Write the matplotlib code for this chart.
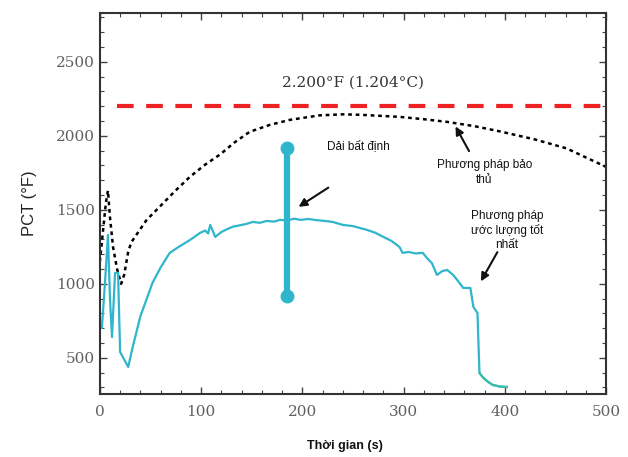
import matplotlib
matplotlib.use("Agg")
import matplotlib.pyplot as plt
from matplotlib.ticker import MultipleLocator

# conservative method (black dotted)
cons_t = [0, 3, 6, 8, 10, 13, 17, 21, 24, 28, 31, 38, 46, 59, 74, 89, 104, 119, 133, 148, 168, 188, 217, 240,
          257, 296, 320, 343, 370, 395, 430, 461, 500]
cons_v = [1150, 1350, 1550, 1630, 1450, 1250, 1100, 1000, 1060, 1216, 1280, 1350, 1430, 1520, 1625, 1723, 1805, 1875,
          1955, 2027, 2074, 2108, 2138, 2145, 2142, 2128, 2112, 2094, 2065, 2030, 1975, 1915, 1790]

# best estimate method (cyan)
best_t = [2, 5, 8, 10, 12, 15, 18, 20, 28, 32, 40, 52, 60, 69, 78, 86, 92, 99, 104, 107,
          109, 112, 114, 120, 126, 131, 138, 145, 151, 158, 165, 172, 178, 185, 192, 198, 206, 214, 222, 230,
          240, 250, 258, 264, 272, 280, 288, 296, 299, 305, 312, 319, 323, 328, 333, 338, 343, 349, 353, 359,
          366, 369, 373, 375, 378, 383, 388, 395, 402]
best_v = [702, 1000, 1330, 900, 640, 1074, 1074, 540, 438, 560, 780, 1006, 1110, 1209, 1250, 1283, 1310, 1344, 1360, 1340,
          1398, 1350, 1317, 1350, 1370, 1385, 1395, 1405, 1418, 1412, 1425, 1420, 1432, 1428, 1440, 1432, 1438, 1430, 1425, 1418,
          1398, 1390, 1375, 1364, 1345, 1317, 1290, 1249, 1209, 1215, 1205, 1209, 1175, 1140, 1060, 1085, 1094, 1060, 1026, 972,
          972, 844, 803, 398, 371, 340, 317, 306, 303]

# uncertainty band
unc_t = 185
unc_lo, unc_hi = 918, 1919

limit_v = 2200
limit_label = "2.200°F (1.204°C)"

fig = plt.figure(figsize=(6.28, 4.57), dpi=100)
ax = fig.add_axes([0.159, 0.138, 0.806, 0.834])

cyan = "#2fb6cc"
ax.axhline(limit_v, xmin=17 / 500, xmax=1, color="#ee2222", lw=3, dashes=(4, 3))
ax.plot(cons_t, cons_v, color="black", lw=1.8, dashes=(1.5, 1.5))
ax.plot(best_t, best_v, color=cyan, lw=1.6)
ax.plot(best_t[-6:], best_v[-6:], color="#3cbfa8", lw=1.6)
ax.plot([unc_t, unc_t], [unc_lo, unc_hi], color=cyan, lw=4.5, solid_capstyle="butt")
ax.plot([unc_t, unc_t], [unc_lo, unc_hi], "o", color=cyan, ms=9)

ax.text(250, 2330, limit_label, family="DejaVu Serif", fontsize=11, color="#333333", ha="center")

txt = dict(fontsize=8.5, color="#111111", family="Liberation Sans", ha="center")
ax.text(255, 1910, "Dải bất định", **txt)
ax.annotate("", xy=(194, 1510), xytext=(228, 1660),
            arrowprops=dict(arrowstyle="-|>", color="#111111", lw=1.5, mutation_scale=12))
ax.text(380, 1680, "Phương pháp bảo\nthủ", linespacing=1.3, **txt)
ax.annotate("", xy=(350, 2080), xytext=(366, 1880),
            arrowprops=dict(arrowstyle="-|>", color="#111111", lw=1.5, mutation_scale=12))
ax.text(402, 1240, "Phương pháp\nước lượng tốt\nnhất", linespacing=1.2, **txt)
ax.annotate("", xy=(375, 1000), xytext=(394, 1230),
            arrowprops=dict(arrowstyle="-|>", color="#111111", lw=1.5, mutation_scale=12))

ax.set_xlim(0, 500)
ax.set_ylim(256, 2831)
ax.set_xticks([0, 100, 200, 300, 400, 500])
ax.set_yticks([500, 1000, 1500, 2000, 2500])
ax.xaxis.set_minor_locator(MultipleLocator(20))
ax.yaxis.set_minor_locator(MultipleLocator(100))
ax.tick_params(which="both", direction="in", top=True, right=True, color="#444444")
ax.tick_params(which="major", length=5, width=1)
ax.tick_params(which="minor", length=3, width=0.8)
ax.tick_params(axis="x", pad=8)
for lab in ax.get_xticklabels() + ax.get_yticklabels():
    lab.set_family("DejaVu Serif")
    lab.set_fontsize(11)
    lab.set_color("#606060")
for s in ax.spines.values():
    s.set_linewidth(1.5)
    s.set_color("#333333")

ax.set_ylabel("PCT (°F)", family="Liberation Sans", fontsize=12, color="#222222", labelpad=14)
fig.text(0.55, 0.018, "Thời gian (s)", family="Liberation Sans", fontsize=9, fontweight="bold",
         color="#111111", ha="center")

fig.savefig("out.png", dpi=100)
